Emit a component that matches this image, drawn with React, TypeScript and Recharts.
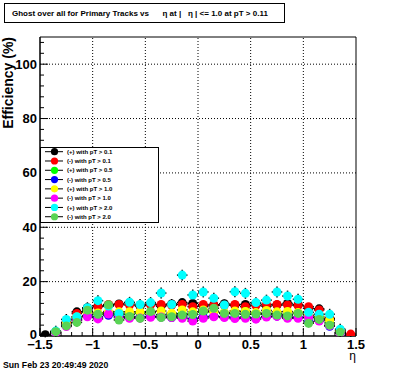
import React from "react";
import {
  ScatterChart,
  Scatter,
  XAxis,
  YAxis,
  ErrorBar,
  ReferenceLine,
  ReferenceArea,
} from "recharts";

// bin centres in eta
const ETA = [
  -1.45, -1.35, -1.25, -1.15, -1.05, -0.95, -0.85, -0.75, -0.65, -0.55,
  -0.45, -0.35, -0.25, -0.15, -0.05, 0.05, 0.15, 0.25, 0.35, 0.45,
  0.55, 0.65, 0.75, 0.85, 0.95, 1.05, 1.15, 1.25, 1.35, 1.45,
];

// ghost rate (%) per bin, null = empty bin
const POS_PT01 = [0.5, 1.6, 4.9, 8.9, 10.4, 11.0, 11.2, 11.8, 12.2, 11.0, 11.8, 11.0, 11.8, 12.3, 12.0, 11.0, 11.5, 11.9, 11.3, 11.6, 12.0, 11.0, 11.4, 12.0, 11.5, 10.2, 10.0, 6.5, 2.2, null];
const NEG_PT01 = [null, 1.5, 5.0, 8.3, 10.0, 10.8, 11.6, 11.6, 11.4, 11.4, 11.5, 11.6, 11.3, 11.6, 10.8, 11.6, 11.2, 11.3, 11.6, 10.8, 11.2, 11.6, 11.6, 11.4, 11.2, 10.8, 9.6, 6.2, 2.0, 0.7];
const POS_PT05 = [null, 1.6, 4.0, 6.5, 9.0, 8.2, 8.5, 8.0, 8.0, 8.4, 8.6, 7.8, 7.7, 8.2, 8.0, 8.8, 9.0, 8.5, 8.2, 9.0, 8.4, 8.0, 8.2, 7.9, 8.5, 6.8, 6.6, 4.8, 1.5, null];
const NEG_PT05 = [null, 1.3, 3.8, 6.0, 7.5, 7.0, 7.6, 7.2, 6.8, 7.0, 7.2, 7.0, 6.8, 7.0, 6.3, 7.0, 7.3, 7.1, 6.8, 7.0, 6.6, 7.2, 7.3, 6.8, 6.9, 5.2, 5.8, 3.6, 1.2, null];
const POS_PT10 = [null, 1.5, 4.5, 7.0, 8.8, 8.5, 9.0, 8.9, 8.9, 8.9, 8.7, 9.2, 8.4, 9.6, 8.9, 9.6, 9.0, 8.6, 9.2, 9.0, 8.6, 9.4, 8.9, 9.0, 8.6, 7.6, 7.2, 5.9, 1.8, null];
const NEG_PT10 = [null, 1.2, 3.5, 5.8, 7.1, 6.3, 8.1, 6.8, 6.5, 6.6, 6.9, 7.0, 6.8, 6.5, 5.5, 6.5, 7.1, 6.8, 6.4, 6.5, 6.2, 7.0, 7.2, 6.5, 6.5, 6.9, 5.5, 3.8, 1.0, null];
const POS_PT20 = [null, 1.8, 6.1, 7.1, 10.4, 13.0, 11.0, 8.3, 12.4, 11.6, 12.3, 15.8, 11.6, 22.4, 15.1, 16.2, 13.9, 11.4, 16.3, 15.7, 12.3, 13.2, 16.2, 14.7, 13.5, 8.7, 8.0, 8.0, 2.5, null];
const NEG_PT20 = [null, 1.6, 3.7, 5.0, 9.5, 8.0, 11.5, 5.9, 7.2, 6.5, 9.0, 6.8, 7.1, 7.7, 7.9, 9.2, 10.2, 8.3, 8.3, 8.0, 8.1, 8.3, 7.7, 7.4, 8.3, 4.7, 6.1, 4.0, 1.4, null];

const SERIES = [
  { name: "(+) with pT > 0.1", values: POS_PT01, color: "#000000", errY: 1.0 },
  { name: "(-) with pT > 0.1", values: NEG_PT01, color: "#ff0000", errY: 1.0 },
  { name: "(+) with pT > 0.5", values: POS_PT05, color: "#00ff00", errY: 1.0 },
  { name: "(-) with pT > 0.5", values: NEG_PT05, color: "#0000ff", errY: 1.0 },
  { name: "(+) with pT > 1.0", values: POS_PT10, color: "#ffff00", errY: 1.2 },
  { name: "(-) with pT > 1.0", values: NEG_PT10, color: "#ff00ff", errY: 1.2 },
  { name: "(+) with pT > 2.0", values: POS_PT20, color: "#00ffff", errY: 2.0 },
  { name: "(-) with pT > 2.0", values: NEG_PT20, color: "#59d454", errY: 1.5 },
];

const BIN_HALF = 0.05;
const X_MAJOR = [-1.5, -1, -0.5, 0, 0.5, 1, 1.5];
const Y_MAJOR = [0, 20, 40, 60, 80, 100];
const X_GRID = [-1, -0.5, 0, 0.5, 1];
const Y_GRID = [20, 40, 60, 80, 100];
const X_TICKS = Array.from({ length: 31 }, (_, k) => Math.round((-1.5 + k * 0.1) * 10) / 10);
const Y_TICKS = Array.from({ length: 28 }, (_, k) => k * 4);

const FONT = "'Liberation Sans', Arial, Helvetica, sans-serif";

function fmtX(v: number) {
  if (v < 0) return "\u2212" + Math.abs(v);
  return String(Math.abs(v));
}

function XTick({ x, y, payload }: any) {
  const v = payload.value;
  const major = X_MAJOR.includes(v);
  return (
    <g>
      <line x1={x} x2={x} y1={y} y2={y - (major ? 8 : 4)} stroke="#000" />
      {major && (
        <text x={x} y={y + 13} textAnchor="middle" fontSize={13} fontWeight="bold" fontFamily={FONT} fill="#000">
          {fmtX(v)}
        </text>
      )}
    </g>
  );
}

function YTick({ x, y, payload }: any) {
  const v = payload.value;
  const major = Y_MAJOR.includes(v);
  // the bottom label sits a little higher, as in the original frame
  const dy = v === 0 ? 2.5 : 4.5;
  return (
    <g>
      <line x1={x} x2={x + (major ? 8 : 4)} y1={y} y2={y} stroke="#000" />
      {major && (
        <text x={x - 3} y={y + dy} textAnchor="end" fontSize={13} fontWeight="bold" fontFamily={FONT} fill="#000">
          {v}
        </text>
      )}
    </g>
  );
}

const dot = (color: string) => (p: any) =>
  p.cx == null ? <g /> : <circle cx={p.cx} cy={p.cy} r={4.5} fill={color} />;

export default function App() {
  const data = SERIES.map((s) =>
    ETA.map((x, i) => ({ x, y: s.values[i], ex: BIN_HALF, ey: s.errY })).filter((p) => p.y != null)
  );

  return (
    <div style={{ position: "fixed", left: 0, top: 0, width: 396, height: 372, background: "#fff" }}>
      <ScatterChart width={396} height={372} margin={{ top: 37, right: 40, bottom: 0, left: 0 }}>
        <XAxis
          type="number"
          dataKey="x"
          domain={[-1.5, 1.5]}
          ticks={X_TICKS}
          interval={0}
          tick={<XTick />}
          tickLine={false}
          tickSize={0}
          tickMargin={0}
          height={36}
          axisLine={{ stroke: "#000" }}
          allowDataOverflow
        />
        <YAxis
          type="number"
          dataKey="y"
          domain={[0, 110]}
          ticks={Y_TICKS}
          interval={0}
          tick={<YTick />}
          tickLine={false}
          tickSize={0}
          tickMargin={0}
          width={40}
          axisLine={{ stroke: "#000" }}
          allowDataOverflow
        />
        {X_GRID.map((v) => (
          <ReferenceLine key={"gx" + v} x={v} stroke="#000" strokeDasharray="1 2" />
        ))}
        {Y_GRID.map((v) => (
          <ReferenceLine key={"gy" + v} y={v} stroke="#000" strokeDasharray="1 2" />
        ))}
        <ReferenceArea x1={-1.5} x2={1.5} y1={0} y2={110} fill="none" stroke="#000" />
        {SERIES.map((s, k) => (
          <Scatter key={s.name} name={s.name} data={data[k]} shape={dot(s.color)} isAnimationActive={false}>
            <ErrorBar dataKey="ex" direction="x" width={0} stroke="#000" />
            <ErrorBar dataKey="ey" direction="y" width={0} stroke="#000" />
          </Scatter>
        ))}
      </ScatterChart>

      <svg width={396} height={372} style={{ position: "absolute", left: 0, top: 0, pointerEvents: "none" }}>
        {/* title box */}
        <rect x={4.5} y={3.5} width={280} height={19} fill="#fff" stroke="#000" />
        <text y={16} fontSize={8} fontWeight="bold" fontFamily={FONT} fill="#000">
          <tspan x={12}>Ghost over all for Primary Tracks vs</tspan>
          <tspan x={162.5}>η at |</tspan>
          <tspan x={188}>η | &lt;= 1.0 at pT &gt; 0.11</tspan>
        </text>

        {/* axis titles */}
        <text
          transform="translate(13,37) rotate(-90)"
          textAnchor="end"
          fontSize={14}
          fontWeight="bold"
          fontFamily={FONT}
          fill="#000"
        >
          Efficiency (%)
        </text>
        <text x={356} y={360} textAnchor="end" fontSize={12} fontFamily={FONT} fill="#000">
          η
        </text>

        {/* legend */}
        <rect x={40.5} y={147.5} width={118} height={75} fill="#fff" stroke="#000" />
        {SERIES.map((s, k) => {
          const cy = 151.7 + k * 9.29;
          return (
            <g key={s.name}>
              <line x1={45} x2={63} y1={cy} y2={cy} stroke="#000" />
              <circle cx={54.5} cy={cy} r={3.6} fill={s.color} />
              <text x={67} y={cy + 2.2} fontSize={6} fontWeight="bold" fontFamily={FONT} fill="#000">
                {s.name}
              </text>
            </g>
          );
        })}

        {/* date stamp */}
        <text x={3} y={367.5} fontSize={8.7} fontWeight="bold" fontFamily={FONT} fill="#000">
          Sun Feb 23 20:49:49 2020
        </text>
      </svg>
    </div>
  );
}
